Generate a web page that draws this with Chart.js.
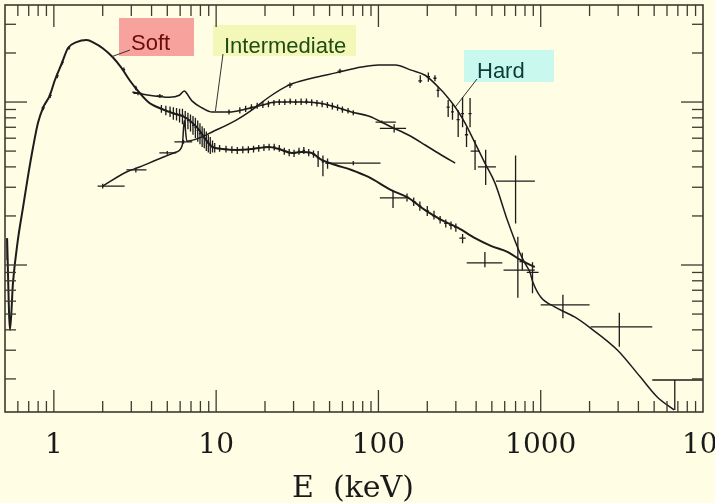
<!DOCTYPE html>
<html>
<head>
<meta charset="utf-8">
<script src="https://cdn.jsdelivr.net/npm/chart.js@4.4.0/dist/chart.umd.min.js"></script>
<style>
html, body { margin: 0; padding: 0; background: #fffde3; }
canvas { display: block; }
</style>
</head>
<body>
<canvas id="spec" width="715" height="503"></canvas>
<script>
// model curves, E in keV, flux in arbitrary units
const softE = [0.515, 0.537, 0.56, 0.60, 0.645, 0.693, 0.743, 0.798, 0.856, 0.945, 1.014, 1.12, 1.22, 1.38, 1.59, 1.78, 2.0, 2.30, 2.61, 2.93, 3.37, 3.88, 4.47, 5.37, 6.55, 7.87, 8.68, 9.45, 10.9, 13.3, 16.6, 21.1, 24.4, 29.3, 33.7, 38.8, 44.7, 54.5, 68.3, 86.8, 120, 153, 194, 244, 310, 394, 493, 628, 754, 919];
const softF = [0.146, 0.040, 0.078, 0.142, 0.224, 0.351, 0.522, 0.743, 0.919, 1.10, 1.36, 1.73, 2.14, 2.33, 2.40, 2.30, 2.14, 1.89, 1.62, 1.36, 1.14, 0.986, 0.919, 0.856, 0.798, 0.673, 0.585, 0.530, 0.515, 0.508, 0.515, 0.530, 0.515, 0.487, 0.494, 0.487, 0.441, 0.411, 0.383, 0.347, 0.288, 0.258, 0.217, 0.189, 0.169, 0.146, 0.131, 0.120, 0.107, 0.0972];

const interE = [3.05, 3.88, 5.15, 5.93, 6.36, 6.83, 7.12, 8.21, 9.45, 12.0, 15.3, 19.2, 23.3, 28.0, 33.7, 42.8, 54.5, 68.3, 86.8, 120, 153, 194, 244, 297];
const interF = [1.15, 1.10, 1.07, 1.10, 1.17, 1.07, 1.014, 0.919, 0.868, 0.868, 0.906, 0.958, 1.0, 1.0, 1.0, 0.986, 0.932, 0.868, 0.821, 0.703, 0.627, 0.545, 0.473, 0.422];

const hardE = [2.0, 2.80, 3.37, 4.28, 5.68, 6.19, 6.36, 6.6, 7.87, 9.45, 13.3, 17.6, 21.1, 28.0, 38.8, 54.5, 78.7, 100, 127, 159, 194, 233, 269, 297, 342, 394, 453, 522, 628, 743, 798, 857, 894, 1000, 1219, 1617, 2028, 2966, 4103, 5221, 6637];
const hardF = [0.305, 0.372, 0.399, 0.441, 0.494, 0.545, 0.77, 0.575, 0.601, 0.655, 0.775, 0.932, 1.07, 1.27, 1.40, 1.51, 1.64, 1.69, 1.69, 1.57, 1.46, 1.24, 1.06, 0.932, 0.743, 0.560, 0.422, 0.319, 0.184, 0.119, 0.103, 0.0906, 0.0787, 0.0636, 0.0553, 0.048, 0.041, 0.0301, 0.0206, 0.0155, 0.0129];

// data points: [E, Elo, Ehi, F, Flo, Fhi]
const softPts = [
  [0.515, 0.515, 0.515, 0.125, 0.107, 0.146],
  [0.86, 0.84, 0.88, 0.92, 0.89, 0.95],
  [0.95, 0.93, 0.97, 1.10, 1.06, 1.14],
  [1.05, 1.03, 1.07, 1.45, 1.40, 1.50],
  [1.13, 1.11, 1.15, 1.75, 1.70, 1.80],
  [1.24, 1.22, 1.26, 2.15, 2.09, 2.21],
  [2.7, 2.65, 2.75, 1.58, 1.53, 1.63],
  [3.2, 3.14, 3.26, 1.22, 1.18, 1.26],
  [4.6, 4.53, 4.67, 0.91, 0.86, 0.96],
  [4.9, 4.83, 4.97, 0.89, 0.83, 0.95],
  [5.2, 5.12, 5.28, 0.88, 0.81, 0.94],
  [5.45, 5.37, 5.53, 0.86, 0.78, 0.93],
  [5.7, 5.61, 5.79, 0.85, 0.77, 0.92],
  [5.95, 5.86, 6.04, 0.84, 0.75, 0.91],
  [6.2, 6.1, 6.3, 0.83, 0.73, 0.91],
  [6.45, 6.35, 6.55, 0.80, 0.70, 0.88],
  [6.7, 6.6, 6.8, 0.77, 0.68, 0.86],
  [6.95, 6.85, 7.05, 0.75, 0.66, 0.84],
  [7.2, 7.1, 7.3, 0.72, 0.63, 0.82],
  [7.45, 7.34, 7.56, 0.70, 0.60, 0.80],
  [7.7, 7.58, 7.82, 0.67, 0.57, 0.77],
  [7.95, 7.83, 8.07, 0.64, 0.55, 0.74],
  [8.2, 8.08, 8.32, 0.62, 0.53, 0.71],
  [8.45, 8.32, 8.58, 0.60, 0.52, 0.69],
  [8.7, 8.57, 8.83, 0.58, 0.50, 0.66],
  [8.95, 8.82, 9.08, 0.56, 0.49, 0.63],
  [9.2, 9.06, 9.34, 0.55, 0.48, 0.61],
  [9.5, 9.36, 9.64, 0.535, 0.49, 0.58],
  [9.8, 9.65, 9.95, 0.525, 0.49, 0.56],
  [10.5, 10.3, 10.7, 0.52, 0.495, 0.545],
  [11.5, 11.3, 11.7, 0.515, 0.49, 0.54],
  [12.5, 12.3, 12.7, 0.51, 0.485, 0.535],
  [13.5, 13.3, 13.7, 0.505, 0.48, 0.53],
  [14.6, 14.4, 14.8, 0.51, 0.485, 0.535],
  [15.8, 15.5, 16.1, 0.51, 0.485, 0.535],
  [17.0, 16.7, 17.3, 0.515, 0.49, 0.54],
  [18.3, 18.0, 18.6, 0.52, 0.495, 0.545],
  [19.7, 19.4, 20.0, 0.525, 0.50, 0.55],
  [21.2, 20.8, 21.6, 0.53, 0.505, 0.555],
  [22.8, 22.4, 23.2, 0.53, 0.505, 0.555],
  [24.5, 24.1, 24.9, 0.52, 0.495, 0.545],
  [26.3, 25.8, 26.8, 0.50, 0.475, 0.525],
  [28.2, 27.7, 28.7, 0.49, 0.465, 0.515],
  [30.2, 29.7, 30.7, 0.485, 0.46, 0.51],
  [32.4, 31.8, 33.0, 0.50, 0.475, 0.525],
  [34.7, 34.1, 35.3, 0.505, 0.48, 0.53],
  [37.2, 36.5, 37.9, 0.49, 0.465, 0.515],
  [39.8, 39.1, 40.5, 0.48, 0.455, 0.505],
  [42.5, 41.7, 43.3, 0.455, 0.40, 0.50],
  [45.5, 44.7, 46.3, 0.43, 0.35, 0.47],
  [48.6, 47.7, 49.5, 0.42, 0.39, 0.45],
  [70, 47, 103, 0.422, 0.41, 0.435],
  [123, 102, 148, 0.258, 0.224, 0.288],
  [150, 146, 154, 0.26, 0.245, 0.275],
  [165, 161, 169, 0.245, 0.23, 0.26],
  [180, 176, 184, 0.23, 0.215, 0.245],
  [200, 195, 205, 0.215, 0.20, 0.23],
  [220, 215, 225, 0.20, 0.19, 0.215],
  [240, 234, 246, 0.19, 0.18, 0.20],
  [260, 254, 266, 0.18, 0.17, 0.19],
  [280, 273, 287, 0.175, 0.165, 0.185],
  [300, 293, 307, 0.17, 0.16, 0.18],
  [330, 315, 345, 0.146, 0.136, 0.155],
  [453, 350, 580, 0.103, 0.097, 0.12]
];
const interPts = [
  [3.3, 3.1, 3.5, 1.13, 1.10, 1.16],
  [4.5, 4.3, 4.7, 1.09, 1.06, 1.12],
  [12, 11.8, 12.2, 0.87, 0.84, 0.90],
  [14, 13.8, 14.2, 0.89, 0.85, 0.93],
  [15.2, 15.0, 15.4, 0.91, 0.87, 0.95],
  [16.5, 16.2, 16.8, 0.93, 0.89, 0.97],
  [17.9, 17.6, 18.2, 0.95, 0.91, 0.99],
  [19.4, 19.1, 19.7, 0.96, 0.92, 1.00],
  [21.0, 20.6, 21.4, 0.975, 0.93, 1.02],
  [22.7, 22.3, 23.1, 0.99, 0.95, 1.03],
  [24.5, 24.1, 24.9, 1.00, 0.96, 1.04],
  [26.5, 26.0, 27.0, 1.00, 0.96, 1.04],
  [28.6, 28.1, 29.1, 1.01, 0.97, 1.05],
  [30.9, 30.3, 31.5, 1.00, 0.96, 1.04],
  [33.4, 32.8, 34.0, 1.005, 0.96, 1.05],
  [36.0, 35.3, 36.7, 1.01, 0.97, 1.05],
  [38.8, 38.1, 39.5, 0.995, 0.95, 1.04],
  [41.8, 41.0, 42.6, 0.985, 0.94, 1.03],
  [45.0, 44.2, 45.8, 0.975, 0.93, 1.02],
  [48.5, 47.6, 49.4, 0.96, 0.92, 1.00],
  [52.0, 51.0, 53.0, 0.945, 0.90, 0.99],
  [56.0, 55.0, 57.0, 0.925, 0.885, 0.965],
  [60.0, 58.9, 61.1, 0.90, 0.86, 0.94],
  [65.0, 63.8, 66.2, 0.885, 0.85, 0.92],
  [70.0, 68.7, 71.3, 0.86, 0.83, 0.89],
  [105, 96, 128, 0.754, 0.74, 0.77],
  [125, 102, 148, 0.69, 0.65, 0.73]
];
const hardPts = [
  [2.0, 1.86, 2.73, 0.305, 0.295, 0.315],
  [3.2, 2.80, 3.72, 0.383, 0.37, 0.395],
  [5.0, 4.47, 5.68, 0.487, 0.475, 0.50],
  [6.3, 5.53, 7.12, 0.569, 0.555, 0.585],
  [28.5, 27.5, 29.5, 1.27, 1.22, 1.32],
  [58, 56, 60, 1.55, 1.50, 1.60],
  [181, 176, 186, 1.35, 1.31, 1.46],
  [203, 198, 208, 1.43, 1.33, 1.52],
  [223, 218, 228, 1.40, 1.34, 1.46],
  [233, 228, 238, 1.18, 1.07, 1.24],
  [269, 263, 275, 0.93, 0.81, 1.03],
  [286, 280, 292, 0.87, 0.78, 0.97],
  [310, 303, 317, 0.78, 0.61, 0.89],
  [330, 323, 337, 0.85, 0.70, 1.07],
  [349, 341, 357, 0.63, 0.53, 0.70],
  [367, 359, 375, 0.85, 0.70, 1.06],
  [394, 370, 420, 0.50, 0.383, 0.585],
  [458, 410, 530, 0.40, 0.31, 0.51],
  [700, 530, 920, 0.327, 0.18, 0.47],
  [723, 590, 920, 0.093, 0.063, 0.149],
  [770, 740, 800, 0.105, 0.093, 0.119],
  [890, 820, 970, 0.09, 0.067, 0.104],
  [1370, 1000, 2000, 0.0569, 0.0471, 0.0656],
  [3050, 2030, 4870, 0.0417, 0.0315, 0.0509],
  [6700, 4870, 10000, 0.0197, 0.0129, 0.0197]
];

const xTickLabels = [1, 10, 100, 1000, 10000];

const ink = '#1c1c1c';
const frameColor = '#3d3a30';

function xy(es, fs) {
  return es.map((e, i) => ({ x: e, y: fs[i] }));
}
function pts(rows) {
  return rows.map(r => ({ x: r[0], y: r[3] }));
}

// label boxes, leader ends are points on the curves (E, F)
const tags = [
  { text: 'Soft', box: [119, 18, 75, 38], fill: '#f7a29c', color: '#6a0c0c', tx: 131, ty: 50, from: [130, 50], to: [2.28, 1.9] },
  { text: 'Intermediate', box: [213, 25, 143, 31], fill: '#f3f8b8', color: '#1f4c12', tx: 224, ty: 53, from: [223, 54], to: [9.9, 0.88] },
  { text: 'Hard', box: [464, 50, 90, 32], fill: '#c8f8ee', color: '#0b3a3a', tx: 477, ty: 78, from: [477, 79], to: [297, 0.93] }
];

const paper = {
  id: 'paper',
  beforeDraw(chart) {
    const ctx = chart.ctx;
    ctx.save();
    ctx.fillStyle = '#fffde3';
    ctx.fillRect(0, 0, chart.width, chart.height);
    ctx.restore();
  }
};

const tagPlugin = {
  id: 'tags',
  beforeDatasetsDraw(chart) {
    const ctx = chart.ctx;
    ctx.save();
    for (const t of tags) {
      ctx.fillStyle = t.fill;
      ctx.fillRect(t.box[0], t.box[1], t.box[2], t.box[3]);
    }
    ctx.restore();
  },
  afterDatasetsDraw(chart) {
    const { ctx, scales: { x, y } } = chart;
    ctx.save();
    for (const t of tags) {
      ctx.strokeStyle = '#333';
      ctx.lineWidth = 1;
      ctx.beginPath();
      ctx.moveTo(t.from[0], t.from[1]);
      ctx.lineTo(x.getPixelForValue(t.to[0]), y.getPixelForValue(t.to[1]));
      ctx.stroke();
      ctx.fillStyle = t.color;
      ctx.font = '22px "Liberation Sans", Arial, sans-serif';
      ctx.textBaseline = 'alphabetic';
      ctx.fillText(t.text, t.tx, t.ty);
    }
    ctx.restore();
  }
};

const errorBars = {
  id: 'errorBars',
  afterDatasetsDraw(chart) {
    const { ctx, scales: { x, y } } = chart;
    ctx.save();
    ctx.strokeStyle = ink;
    ctx.lineWidth = 1.3;
    chart.data.datasets.forEach(ds => {
      if (!ds.bars) return;
      for (const r of ds.bars) {
        const px = x.getPixelForValue(r[0]);
        const py = y.getPixelForValue(r[3]);
        ctx.beginPath();
        ctx.moveTo(x.getPixelForValue(r[1]), py);
        ctx.lineTo(x.getPixelForValue(r[2]), py);
        ctx.moveTo(px, y.getPixelForValue(r[4]));
        ctx.lineTo(px, y.getPixelForValue(r[5]));
        ctx.stroke();
      }
    });
    ctx.restore();
  }
};

const frame = {
  id: 'frame',
  afterDraw(chart) {
    const { ctx, chartArea: a, scales: { x, y } } = chart;
    ctx.save();
    ctx.strokeStyle = frameColor;
    ctx.lineWidth = 1.6;
    ctx.strokeRect(a.left, a.top, a.right - a.left, a.bottom - a.top);
    ctx.lineWidth = 1.3;
    const seg = (x1, y1, x2, y2) => { ctx.beginPath(); ctx.moveTo(x1, y1); ctx.lineTo(x2, y2); ctx.stroke(); };
    for (let d = -1; d <= 4; d++) {
      for (let m = 1; m <= 9; m++) {
        const v = m * Math.pow(10, d);
        if (v <= x.min || v >= x.max) continue;
        const p = x.getPixelForValue(v);
        const len = m === 1 ? 22 : 11;
        seg(p, a.bottom, p, a.bottom - len);
        seg(p, a.top, p, a.top + len);
      }
    }
    for (let d = -2; d <= 0; d++) {
      for (let m = 1; m <= 9; m++) {
        const v = m * Math.pow(10, d);
        if (v <= y.min || v >= y.max) continue;
        const p = y.getPixelForValue(v);
        const len = m === 1 ? 22 : 11;
        seg(a.left, p, a.left + len, p);
        seg(a.right, p, a.right - len, p);
      }
    }
    ctx.fillStyle = '#1a1a1a';
    ctx.font = '28px "DejaVu Serif", serif';
    ctx.textBaseline = 'alphabetic';
    xTickLabels.forEach(v => {
      const p = x.getPixelForValue(v);
      const s = String(v);
      if (v === x.max) {
        ctx.textAlign = 'left';
        ctx.fillText(s, p - 21, 453);
      } else {
        ctx.textAlign = 'center';
        ctx.fillText(s, p, 453);
      }
    });
    ctx.textAlign = 'center';
    ctx.font = '30px "DejaVu Serif", serif';
    ctx.fillText('E  (keV)', 353, 497);
    ctx.restore();
  }
};

const lineStyle = { showLine: true, pointRadius: 0, borderColor: ink, fill: false, cubicInterpolationMode: 'monotone' };
const dotStyle = { showLine: false, pointRadius: 0, borderColor: ink };

new Chart(document.getElementById('spec'), {
  type: 'scatter',
  data: {
    datasets: [
      Object.assign({ label: 'Soft', data: xy(softE, softF), borderWidth: 2 }, lineStyle),
      Object.assign({ label: 'Intermediate', data: xy(interE, interF), borderWidth: 1.6 }, lineStyle),
      Object.assign({ label: 'Hard', data: xy(hardE, hardF), borderWidth: 1.5 }, lineStyle),
      Object.assign({ label: 'Soft data', data: pts(softPts), bars: softPts }, dotStyle),
      Object.assign({ label: 'Intermediate data', data: pts(interPts), bars: interPts }, dotStyle),
      Object.assign({ label: 'Hard data', data: pts(hardPts), bars: hardPts }, dotStyle)
    ]
  },
  options: {
    responsive: false,
    animation: false,
    layout: { padding: { left: 5, top: 5, right: 12, bottom: 91 } },
    plugins: { legend: { display: false }, tooltip: { enabled: false } },
    scales: {
      x: { type: 'logarithmic', min: 0.5, max: 10000, display: false },
      y: { type: 'logarithmic', min: 0.01253, max: 3.94, display: false }
    }
  },
  plugins: [paper, tagPlugin, errorBars, frame]
});
</script>
</body>
</html>
